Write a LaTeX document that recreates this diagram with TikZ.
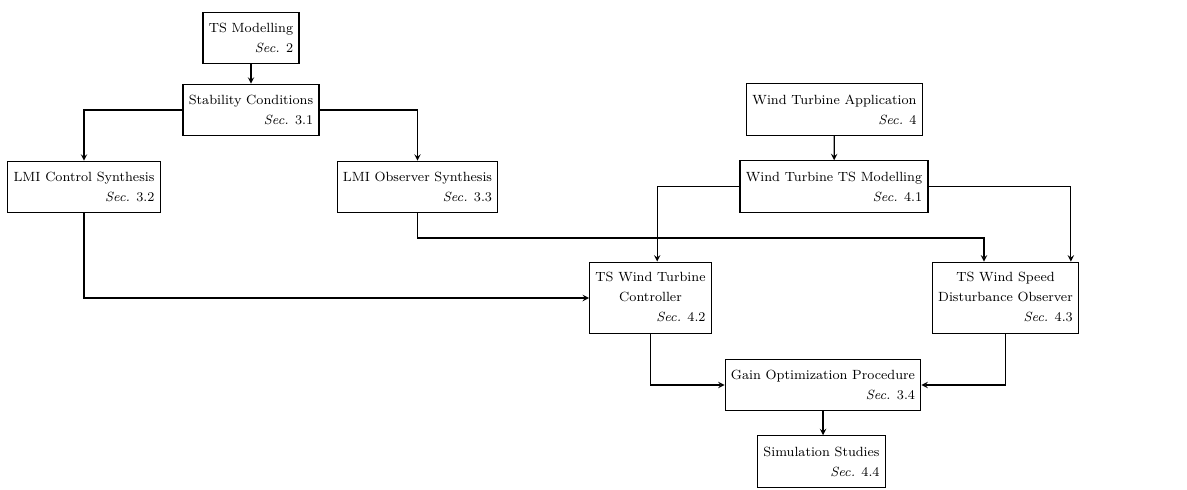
\documentclass[tikz,border=0pt]{standalone}
\usepackage{amsmath}
\usepackage{tikz}
\usetikzlibrary{positioning}

\tikzset{
  secbox/.style={draw=black,rectangle,align=right,inner xsep=3.5pt,inner ysep=6.5pt,line width=0.7pt,
    font=\fontsize{8}{12}\selectfont},
  flow/.style={->,>=stealth,line width=0.7pt}
}
\newcommand{\secref}[1]{\textit{Sec.} #1}
\newcommand{\threeline}[3]{\begin{tabular}{@{}c@{}}#1\\#2\\\multicolumn{1}{@{}r@{}}{#3}\end{tabular}}

\begin{document}
\begin{tikzpicture}[x=0.6pt,y=-0.6pt]
    \useasboundingbox (0,0) rectangle (1187,490);
        % left column
        \node[secbox] (tsmod) at (251,38) {TS Modelling\\\secref{2}};
        \node[secbox] (stab) at (251,110) {Stability Conditions\\\secref{3.1}};
        \node[secbox] (lmictrl) at (84,187) {LMI Control Synthesis\\\secref{3.2}};
        \node[secbox] (lmiobs) at (417.5,187) {LMI Observer Synthesis\\\secref{3.3}};
        % wind turbine part
        \node[secbox] (wtapp) at (834.5,109.5) {Wind Turbine Application\\\secref{4}};
        \node[secbox] (wtmod) at (834,186.5) {Wind Turbine TS Modelling\\\secref{4.1}};
        \node[secbox,inner ysep=3.5pt] (wtctrl) at (650.5,298) {\threeline{TS Wind Turbine}{Controller}{\secref{4.2}}};
        \node[secbox,inner ysep=3.5pt] (wtobs) at (1005.5,298) {\threeline{TS Wind Speed}{Disturbance Observer}{\secref{4.3}}};
        \node[secbox] (gain) at (823,385) {Gain Optimization Procedure\\\secref{3.4}};
        \node[secbox] (sim) at (821.5,461.5) {Simulation Studies\\\secref{4.4}};

        \coordinate (obsin) at (984,238);

        \draw[flow] (tsmod) -- (stab);
        \draw[flow] (stab.west) -| (lmictrl.north);
        \draw[flow] (stab.east) -| (lmiobs.north);
        \draw[flow] (lmictrl.south) |- (wtctrl.west);
        \draw[flow] (lmiobs.south) |- (obsin) -- (obsin |- wtobs.north);
        \draw[flow] (wtapp) -- (wtmod);
        \draw[flow] (wtmod.west) -| ([xshift=4pt]wtctrl.north);
        \draw[flow] (wtmod.east) -| ([xshift=-5pt]wtobs.north east);
        \draw[flow] (wtctrl.south) |- (gain.west);
        \draw[flow] (wtobs.south) |- (gain.east);
        \draw[flow] (gain.south) -- (gain.south |- sim.north);
\end{tikzpicture}
\end{document}
